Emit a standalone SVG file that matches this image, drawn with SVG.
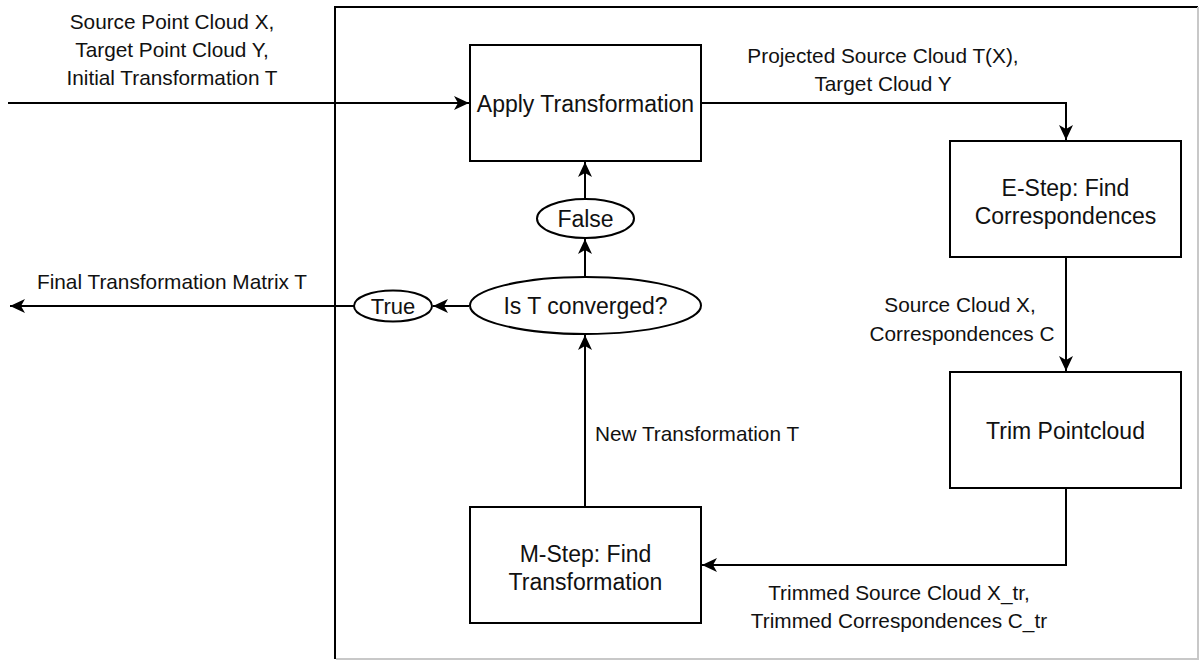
<svg xmlns="http://www.w3.org/2000/svg" width="1199" height="660" viewBox="0 0 1199 660">
  <style>
    .box { fill: #ffffff; stroke: #000000; stroke-width: 2; }
    .edge { fill: none; stroke: #000000; stroke-width: 2; }
    .frame { fill: none; stroke: #000000; stroke-width: 2; }
    .crop { fill: none; stroke: #c8c8c8; stroke-width: 2; }
    text { font-family: "Liberation Sans", Arial, sans-serif; fill: #111111; text-anchor: middle; }
    .node { font-size: 23px; }
    .label { font-size: 20.8px; }
  </style>
  <defs>
    <marker id="arrow" viewBox="-16 -8 17 16" refX="0" refY="0" markerWidth="17" markerHeight="16" markerUnits="userSpaceOnUse" orient="auto">
      <path d="M0,0 L-15,-7 L-11,0 L-15,7 Z" fill="#000000"/>
    </marker>
  </defs>

  <rect width="1199" height="660" fill="#ffffff"/>

  <!-- outer loop frame -->
  <g id="frame">
    <path class="frame" d="M335,659 V7 H1198"/>
    <path class="crop" d="M1198,7 V659 H336"/>
  </g>

  <!-- connectors -->
  <g id="connectors">
    <path class="edge" d="M8,103 H469" marker-end="url(#arrow)"/>
    <path class="edge" d="M701,103 H1066 V140" marker-end="url(#arrow)"/>
    <path class="edge" d="M1066,257 V371" marker-end="url(#arrow)"/>
    <path class="edge" d="M1066,488 V565 H702" marker-end="url(#arrow)"/>
    <path class="edge" d="M585,506 V335" marker-end="url(#arrow)"/>
    <path class="edge" d="M585,276 V239" marker-end="url(#arrow)"/>
    <path class="edge" d="M585,199 V162" marker-end="url(#arrow)"/>
    <path class="edge" d="M469,306 H433" marker-end="url(#arrow)"/>
    <path class="edge" d="M354,306 H10" marker-end="url(#arrow)"/>
  </g>

  <!-- connector labels -->
  <g id="edge-labels">
    <text class="label" x="172" y="29">Source Point Cloud X,</text>
    <text class="label" x="172" y="57">Target Point Cloud Y,</text>
    <text class="label" x="172" y="85">Initial Transformation T</text>
    <text class="label" x="883" y="63">Projected Source Cloud T(X),</text>
    <text class="label" x="883" y="91">Target Cloud Y</text>
    <text class="label" x="960" y="312">Source Cloud X,</text>
    <text class="label" x="962" y="341">Correspondences C</text>
    <text class="label" x="697" y="441">New Transformation T</text>
    <text class="label" x="899" y="600">Trimmed Source Cloud X_tr,</text>
    <text class="label" x="899" y="628">Trimmed Correspondences C_tr</text>
    <text class="label" x="172" y="289">Final Transformation Matrix T</text>
  </g>

  <g id="apply-transformation">
    <rect class="box" x="470" y="45" width="231" height="116"/>
    <text class="node" x="585.5" y="112">Apply Transformation</text>
  </g>

  <g id="e-step">
    <rect class="box" x="950" y="141" width="231" height="116"/>
    <text class="node" x="1065.5" y="196">E-Step: Find</text>
    <text class="node" x="1065.5" y="224">Correspondences</text>
  </g>

  <g id="trim-pointcloud">
    <rect class="box" x="950" y="372" width="231" height="116"/>
    <text class="node" x="1065.5" y="439">Trim Pointcloud</text>
  </g>

  <g id="m-step">
    <rect class="box" x="470" y="507" width="231" height="116"/>
    <text class="node" x="585.5" y="562">M-Step: Find</text>
    <text class="node" x="585.5" y="590">Transformation</text>
  </g>

  <g id="converged">
    <ellipse class="box" cx="585.5" cy="305.5" rx="115.5" ry="28.5"/>
    <text class="node" x="585.5" y="314">Is T converged?</text>
  </g>

  <g id="false">
    <ellipse class="box" cx="585.5" cy="218.5" rx="48.5" ry="19.5"/>
    <text class="node" x="585.5" y="227">False</text>
  </g>

  <g id="true">
    <ellipse class="box" cx="393" cy="306" rx="39" ry="15.5"/>
    <text class="node" x="393" y="314" style="font-size:22px">True</text>
  </g>
</svg>
